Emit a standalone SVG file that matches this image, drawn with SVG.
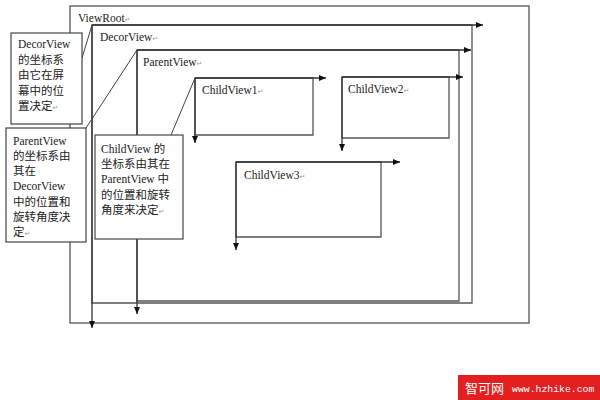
<svg xmlns="http://www.w3.org/2000/svg" width="600" height="400" viewBox="0 0 600 400">
<style>
  .box{fill:none;stroke:#555;stroke-width:1.3}
  .call{fill:#fff;stroke:#444;stroke-width:1.2}
  .ax{fill:none;stroke:#333;stroke-width:1.3;marker-end:url(#ah)}
  .ln{fill:none;stroke:#444;stroke-width:1}
  .t{font-family:"Liberation Serif","Noto Sans CJK SC",serif;font-size:11.5px;fill:#222}
  .pm{font-family:"DejaVu Sans",sans-serif;font-size:7px;fill:#999}
</style>
<defs>
  <marker id="ah" markerUnits="userSpaceOnUse" markerWidth="8" markerHeight="7" refX="7" refY="3" orient="auto">
    <path d="M0,0 L7,3 L0,6 z" fill="#111"/>
  </marker>
</defs>
<rect width="600" height="400" fill="#fff"/>

<g id="ViewRoot">
  <rect class="box" x="70" y="6" width="459" height="317"/>
  <text class="t" x="78" y="22">ViewRoot<tspan class="pm">↵</tspan></text>
</g>
<g id="DecorView">
  <path class="box" d="M92,25 H472 V303 H92 Z"/>
  <text class="t" x="100" y="41">DecorView<tspan class="pm">↵</tspan></text>
</g>
<g id="ParentView">
  <path class="box" d="M137,50 H459 V301 H137 Z"/>
  <text class="t" x="143" y="66">ParentView<tspan class="pm">↵</tspan></text>
</g>
<g id="ChildView1">
  <path class="box" d="M195,78 H313 V135 H195 Z"/>
  <text class="t" x="202" y="94">ChildView1<tspan class="pm">↵</tspan></text>
</g>
<g id="ChildView2">
  <path class="box" d="M342,77 H449 V138 H342 Z"/>
  <text class="t" x="348" y="93">ChildView2<tspan class="pm">↵</tspan></text>
</g>
<g id="ChildView3">
  <path class="box" d="M236,162 H381 V237 H236 Z"/>
  <text class="t" x="244" y="179">ChildView3<tspan class="pm">↵</tspan></text>
</g>

<g id="connectors">
  <line class="ax" x1="92" y1="25" x2="483" y2="25"/>
  <line class="ax" x1="92" y1="25" x2="92" y2="328"/>
  <line class="ax" x1="137" y1="50" x2="471" y2="50"/>
  <line class="ax" x1="137" y1="50" x2="137" y2="314"/>
  <line class="ax" x1="195" y1="78" x2="326" y2="78"/>
  <line class="ax" x1="195" y1="78" x2="195" y2="143"/>
  <line class="ax" x1="342" y1="77" x2="463" y2="77"/>
  <line class="ax" x1="342" y1="77" x2="342" y2="151"/>
  <line class="ax" x1="236" y1="162" x2="400" y2="162"/>
  <line class="ax" x1="236" y1="162" x2="236" y2="250"/>
  <line class="ln" x1="82" y1="58" x2="92" y2="25"/>
  <line class="ln" x1="86" y1="128" x2="137" y2="50"/>
  <line class="ln" x1="171" y1="135" x2="195" y2="78"/>
</g>

<g id="note-decor">
  <rect class="call" x="11" y="33" width="71" height="91"/>
  <text class="t" x="18" y="48">DecorView</text>
  <text class="t" x="18" y="64">的坐标系</text>
  <text class="t" x="18" y="79">由它在屏</text>
  <text class="t" x="18" y="95">幕中的位</text>
  <text class="t" x="18" y="110">置决定<tspan class="pm">↵</tspan></text>
</g>
<g id="note-parent">
  <rect class="call" x="6" y="128" width="80" height="114"/>
  <text class="t" x="13" y="145">ParentView</text>
  <text class="t" x="13" y="160">的坐标系由</text>
  <text class="t" x="13" y="175">其在</text>
  <text class="t" x="13" y="190">DecorView</text>
  <text class="t" x="13" y="206">中的位置和</text>
  <text class="t" x="13" y="221">旋转角度决</text>
  <text class="t" x="13" y="236">定<tspan class="pm">↵</tspan></text>
</g>
<g id="note-child">
  <rect class="call" x="95" y="135" width="88" height="104"/>
  <text class="t" x="101" y="153">ChildView 的</text>
  <text class="t" x="101" y="168">坐标系由其在</text>
  <text class="t" x="101" y="183">ParentView 中</text>
  <text class="t" x="101" y="199">的位置和旋转</text>
  <text class="t" x="101" y="214">角度来决定<tspan class="pm">↵</tspan></text>
</g>

<g id="watermark">
  <rect x="458" y="375" width="142" height="25" fill="#e3201f"/>
  <text x="465" y="393" font-family="Noto Sans CJK SC,sans-serif" font-size="13" fill="#fff">智可网</text>
  <text x="512" y="392" font-family="Liberation Mono,monospace" font-size="9.8" fill="#fff">www.hzhike.com</text>
</g>
</svg>
